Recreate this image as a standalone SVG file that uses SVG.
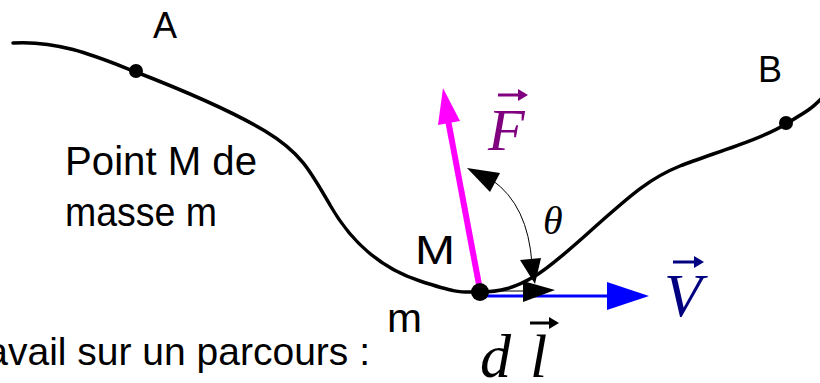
<svg xmlns="http://www.w3.org/2000/svg" width="820" height="383" viewBox="0 0 820 383">
<style>
.hand{font-family:"Liberation Sans","DejaVu Sans",sans-serif;fill:#000}
.math{font-family:"Liberation Serif","DejaVu Serif",serif;font-style:italic}
.curve{fill:none;stroke:#000;stroke-width:3.5;stroke-linecap:round}
</style>
<rect width="820" height="383" fill="#fff"/>
<g id="path-curve">
<path class="curve" d="M13,43 C60,40 100,58 136,72 S230,110 265,131 S310,170 330,205 S380,268 420,281 S460,292 480,292 S515,288 535,276 S580,240 605,218 S650,178 680,166 S760,140 786,124 S812,108 822,98"/>
</g>
<g id="connectors">
<g id="vec-V">
<line x1="480" y1="296" x2="612" y2="296" stroke="#0000ff" stroke-width="3"/>
<polygon points="649,296 607,282 607,310" fill="#0000ff"/>
</g>
<g id="vec-dl">
<line x1="480" y1="291" x2="530" y2="291" stroke="#000" stroke-width="1.2"/>
<polygon points="555,290 523,281 523,302" fill="#000"/>
</g>
<g id="vec-F">
<line x1="480" y1="290" x2="448" y2="120" stroke="#ff00ff" stroke-width="6"/>
<polygon points="443,88 460,121 438,125" fill="#ff00ff"/>
</g>
<g id="angle">
<path d="M492,180 Q528,205 532,264" fill="none" stroke="#000" stroke-width="1"/>
<polygon points="467,168 500,173 490,192" fill="#000"/>
<polygon points="535,284 520,260 541,258" fill="#000"/>
</g>
</g>
<g id="node-A">
<circle cx="136" cy="71" r="7" fill="#000"/>
<text class="hand" x="165" y="38" font-size="36" text-anchor="middle">A</text>
</g>
<g id="node-B">
<circle cx="786" cy="123" r="7" fill="#000"/>
<text class="hand" x="770" y="82" font-size="36" text-anchor="middle">B</text>
</g>
<g id="node-M">
<circle cx="480" cy="292" r="9" fill="#000"/>
<text class="hand" x="415" y="264" font-size="40" textLength="40" lengthAdjust="spacingAndGlyphs">M</text>
<text class="hand" x="387" y="332" font-size="40" textLength="35" lengthAdjust="spacingAndGlyphs">m</text>
</g>
<g id="label-point">
<text class="hand" x="65" y="175" font-size="40" textLength="192" lengthAdjust="spacingAndGlyphs">Point M de</text>
<text class="hand" x="65" y="226" font-size="40" textLength="152" lengthAdjust="spacingAndGlyphs">masse m</text>
</g>
<g id="label-travail">
<text class="hand" x="370" y="365" font-size="39" text-anchor="end">Travail sur un parcours :</text>
</g>
<g id="label-F">
<text class="math" x="488" y="150" font-size="60" fill="#800080">F</text>
<line x1="498" y1="95" x2="522" y2="95" stroke="#800080" stroke-width="3"/>
<polygon points="528,95 518,89 518,101" fill="#800080"/>
</g>
<g id="label-V">
<text class="math" x="664" y="316" font-size="62" fill="#000080">V</text>
<line x1="673" y1="262" x2="698" y2="262" stroke="#000080" stroke-width="3"/>
<polygon points="704,262 694,256 694,268" fill="#000080"/>
</g>
<g id="label-dl">
<text class="math" x="480" y="377" font-size="62" fill="#000">d</text>
<text class="math" x="530" y="377" font-size="62" fill="#000">l</text>
<line x1="530" y1="323" x2="553" y2="323" stroke="#000" stroke-width="3"/>
<polygon points="559,323 549,317 549,329" fill="#000"/>
</g>
<g id="label-theta">
<text class="math" x="543" y="234" font-size="40" fill="#000">θ</text>
</g>
</svg>
